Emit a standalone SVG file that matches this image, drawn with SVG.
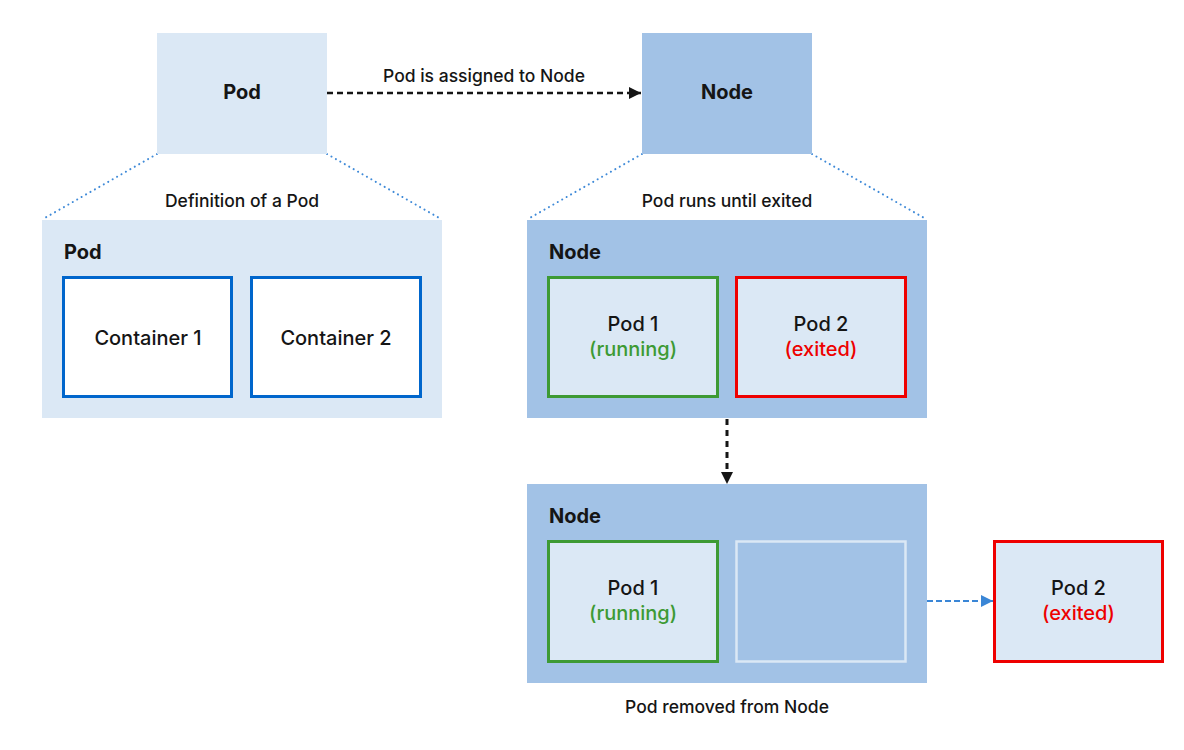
<svg xmlns="http://www.w3.org/2000/svg" width="1184" height="750" viewBox="0 0 1184 750">
<defs>
<style>
text{font-family:Inter,"Noto Sans","Liberation Sans",sans-serif;fill:#151515;font-weight:500}
.b{font-weight:bold;font-size:20px}
.l{font-size:20px}
.s{font-size:17.5px}
.c{text-anchor:middle}
.light{fill:#dbe8f5}
.mid{fill:#a2c2e6}
.g{fill:#3d9a34}
.r{fill:#ee0000}
.dot{stroke:#3f8ad8;stroke-width:2;stroke-dasharray:0.1 5;stroke-linecap:round;fill:none}
</style>
<marker id="ah" viewBox="0 0 10 10" refX="10" refY="5" markerWidth="12" markerHeight="12" markerUnits="userSpaceOnUse" orient="auto"><path d="M0,0L10,5L0,10z" fill="#151515"/></marker>
<marker id="ahb" viewBox="0 0 10 10" refX="10" refY="5" markerWidth="12" markerHeight="12" markerUnits="userSpaceOnUse" orient="auto"><path d="M0,0L10,5L0,10z" fill="#3a86d6"/></marker>
</defs>
<rect width="1184" height="750" fill="#ffffff"/>
<g id="connectors">
<line x1="327" y1="93" x2="641" y2="93" stroke="#151515" stroke-width="2.5" stroke-dasharray="6 4" marker-end="url(#ah)"/>
<line x1="727" y1="419" x2="727" y2="484" stroke="#151515" stroke-width="3" stroke-dasharray="6 5" marker-end="url(#ah)"/>
<line x1="907" y1="601" x2="925" y2="601" stroke="#dbe8f5" stroke-width="2" stroke-dasharray="5 3"/>
<line x1="927" y1="601" x2="993" y2="601" stroke="#3a86d6" stroke-width="2" stroke-dasharray="6 3" marker-end="url(#ahb)"/>
<line class="dot" x1="157" y1="154" x2="43" y2="219"/>
<line class="dot" x1="327" y1="154" x2="441" y2="219"/>
<line class="dot" x1="642" y1="154" x2="528" y2="219"/>
<line class="dot" x1="812" y1="154" x2="926" y2="219"/>
</g>
<g id="pod-top">
<rect x="157" y="33" width="170" height="121" class="light"/>
<text x="242" y="99" class="b c">Pod</text>
</g>
<g id="node-top">
<rect x="642" y="33" width="170" height="121" class="mid"/>
<text x="727" y="99" class="b c">Node</text>
</g>
<text x="484" y="82" class="s c">Pod is assigned to Node</text>
<text x="242" y="207" class="s c">Definition of a Pod</text>
<text x="727" y="207" class="s c">Pod runs until exited</text>
<g id="pod-definition">
<rect x="42" y="220" width="400" height="198" class="light"/>
<text x="64" y="259" class="b">Pod</text>
</g>
<g id="container1">
<rect x="63.5" y="277.5" width="168" height="119" fill="#ffffff" stroke="#0066cc" stroke-width="3"/>
<text x="148" y="345" class="l c">Container 1</text>
</g>
<g id="container2">
<rect x="251.5" y="277.5" width="169" height="119" fill="#ffffff" stroke="#0066cc" stroke-width="3"/>
<text x="336" y="345" class="l c">Container 2</text>
</g>
<g id="node-running">
<rect x="527" y="220" width="400" height="198" class="mid"/>
<text x="549" y="259" class="b">Node</text>
</g>
<g id="pod1-a">
<rect x="548.5" y="277.5" width="169" height="119" class="light" stroke="#3d9a34" stroke-width="3"/>
<text x="633" y="331" class="l c">Pod 1</text>
<text x="633" y="356" class="l c g">(running)</text>
</g>
<g id="pod2-a">
<rect x="736.5" y="277.5" width="169" height="119" class="light" stroke="#ee0000" stroke-width="3"/>
<text x="821" y="331" class="l c">Pod 2</text>
<text x="821" y="356" class="l c r">(exited)</text>
</g>
<g id="node-removed">
<rect x="527" y="484" width="400" height="199" class="mid"/>
<text x="549" y="523" class="b">Node</text>
</g>
<g id="pod1-b">
<rect x="548.5" y="541.5" width="169" height="120" class="light" stroke="#3d9a34" stroke-width="3"/>
<text x="633" y="595" class="l c">Pod 1</text>
<text x="633" y="620" class="l c g">(running)</text>
</g>
<g id="empty-slot">
<rect x="736.5" y="541.5" width="169" height="120" fill="none" stroke="#dbe8f5" stroke-width="2.5"/>
</g>
<g id="pod2-b">
<rect x="994.5" y="541.5" width="168" height="120" class="light" stroke="#ee0000" stroke-width="3"/>
<text x="1078.5" y="595" class="l c">Pod 2</text>
<text x="1078.5" y="620" class="l c r">(exited)</text>
</g>
<text x="727" y="713" class="s c">Pod removed from Node</text>
</svg>
